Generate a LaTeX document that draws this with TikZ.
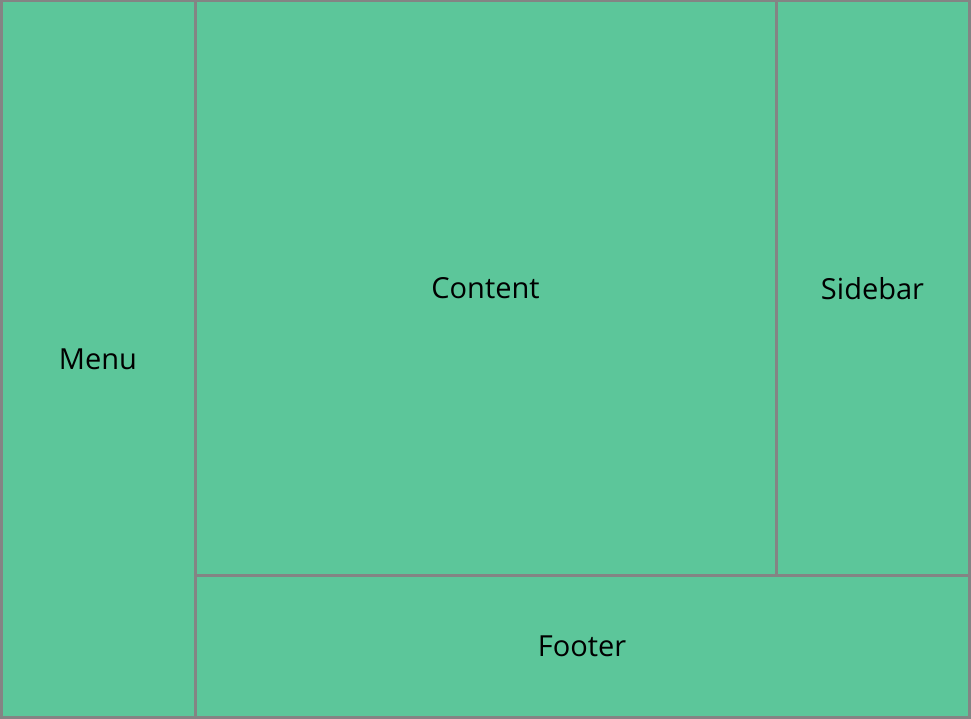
\documentclass[tikz,border=0pt]{standalone}
\usepackage{fontspec}
\setmainfont{Open Sans}
\definecolor{panelgreen}{RGB}{92,198,154}
\definecolor{panelgray}{RGB}{132,132,132}

\begin{document}
\begin{tikzpicture}[x=1pt,y=-1pt,
	panel/.style={rectangle,draw=panelgray,fill=panelgreen,line width=3pt,inner sep=0pt,text depth=0pt,font=\fontsize{29}{34}\selectfont}]
	\useasboundingbox (0,0) rectangle (971,719);
	\node[panel,minimum width=194pt,minimum height=716pt] (menu) at (98,359) {Menu};
	\node[panel,minimum width=581pt,minimum height=574pt] (content) at (485.5,288) {Content};
	\node[panel,minimum width=193pt,minimum height=574pt] (sidebar) at (872.5,288) {Sidebar};
	\node[panel,minimum width=774pt,minimum height=142pt] (footer) at (582,646) {Footer};
\end{tikzpicture}
\end{document}
